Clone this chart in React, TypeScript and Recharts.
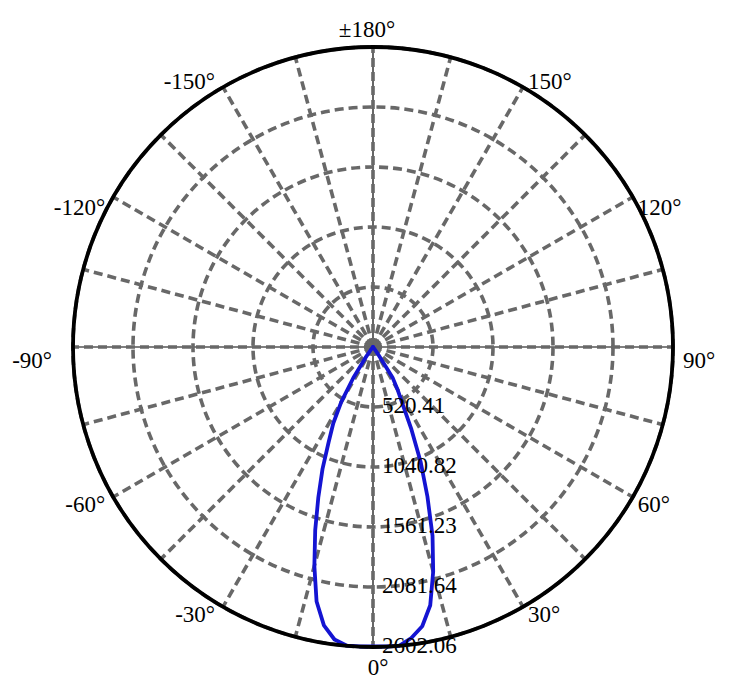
import { RadarChart, PolarGrid, PolarAngleAxis, PolarRadiusAxis, Radar } from 'recharts';

// luminous intensity (cd), angle 0 = straight down
const angles = [
    0, 2.5, 5, 7.5, 10, 12.5, 15, 17.5, 20, 22.5, 25, 27.5, 30, 32.5, 35, 37.5, 40,
    45, 60, 75, 90, 105, 120, 135, 150, 165, 180, 195, 210, 225, 240, 255, 270, 285, 300, 315,
    320, 322.5, 325, 327.5, 330, 332.5, 335, 337.5, 340, 342.5, 345, 347.5, 350, 352.5, 355, 357.5,
];
const intensity = [
    2596, 2600, 2602, 2546, 2459, 2294, 2017, 1717, 1380, 1082, 789, 551, 425, 320, 70, 17, 7,
    4, 3, 3, 3, 2, 2, 2, 2, 2, 2, 2, 2, 2, 2, 2, 3, 3, 3, 4,
    9, 35, 113, 319, 550, 746, 911, 1144, 1386, 1667, 1965, 2261, 2452, 2559, 2600, 2600,
];
const angleTicks = [0, 15, 30, 45, 60, 75, 90, 105, 120, 135, 150, 165, 180, 195, 210, 225, 240, 255, 270, 285, 300, 315, 330, 345];
const radiusTicks = [0, 520.41, 1040.82, 1561.23, 2081.64, 2602.06];

const data = angles.map((a, i) => ({ angle: a, value: intensity[i] }));

const CX = 373;
const CY = 347;
const R = 300;
const SERIF = 'Liberation Serif';

function angleLabel(deg: number) {
    if (deg === 180) return '±180°';
    if (deg > 180) return `${deg - 360}°`;
    return `${deg}°`;
}

function AngleTick(props: any) {
    const { payload } = props;
    const deg = payload.value;
    if (deg % 30 !== 0) return <g />;
    const rad = (payload.coordinate * Math.PI) / 180;
    const px = CX + R * Math.cos(rad);
    const py = CY - R * Math.sin(rad);
    const s = Math.sin((deg * Math.PI) / 180);
    const c = Math.cos((deg * Math.PI) / 180);
    let anchor = 'middle';
    let x = px;
    let y = c < -0.8 ? py + 2 : c < -0.3 ? py + 18 : py + 15;
    if (Math.abs(s) < 0.1) {
        x = deg === 0 ? px + 5 : px - 6;
        y = deg === 0 ? py + 28 : py - 10;
    } else if (s > 0) {
        anchor = 'start';
        x = s > 0.99 ? px + 10 : px + 5;
        if (s > 0.99) y = py + 21;
    } else {
        anchor = 'end';
        x = s < -0.99 ? px - 21 : px - 8;
        if (s < -0.99) y = py + 21;
    }
    return (
        <text x={x} y={y} textAnchor={anchor} fontFamily={SERIF} fontSize={23} fill="#000">
            {angleLabel(deg)}
        </text>
    );
}

function RadiusTick(props: any) {
    const { x, y, payload } = props;
    if (!payload.value) return <g />;
    return (
        <text x={x + 9} y={y + 6} textAnchor="start" fontFamily={SERIF} fontSize={23} fill="#000">
            {Number(payload.value).toFixed(2)}
        </text>
    );
}

export default function App() {
    return (
        <div style={{ position: 'absolute', left: 0, top: 0, width: 751, height: 692, background: '#fff', fontFamily: SERIF }}>
            <RadarChart
                width={751}
                height={692}
                cx={CX}
                cy={CY}
                innerRadius={0}
                outerRadius={R}
                startAngle={-90}
                endAngle={270}
                margin={{ top: 0, right: 0, bottom: 0, left: 0 }}
                data={data}
            >
                {/* thin solid cross behind the dashed grid */}
                <PolarGrid gridType="circle" polarAngles={[0, 90, 180, 270]} polarRadius={[0]} stroke="#000" strokeWidth={1.2} />
                <PolarGrid gridType="circle" stroke="#686868" strokeWidth={3.6} strokeDasharray="9 5" />
                <PolarAngleAxis
                    type="number"
                    dataKey="angle"
                    domain={[0, 360]}
                    ticks={angleTicks}
                    tick={AngleTick}
                    tickLine={false}
                    axisLineType="circle"
                    axisLine={{ stroke: '#000', strokeWidth: 3.8 }}
                />
                <PolarRadiusAxis
                    angle={-90}
                    type="number"
                    domain={[0, 2602.06]}
                    ticks={radiusTicks}
                    tick={RadiusTick}
                    axisLine={false}
                    tickLine={false}
                />
                <Radar
                    dataKey="value"
                    stroke="#1414d2"
                    strokeWidth={3.8}
                    strokeLinejoin="round"
                    fill="none"
                    fillOpacity={0}
                    dot={false}
                    isAnimationActive={false}
                />
            </RadarChart>
        </div>
    );
}
